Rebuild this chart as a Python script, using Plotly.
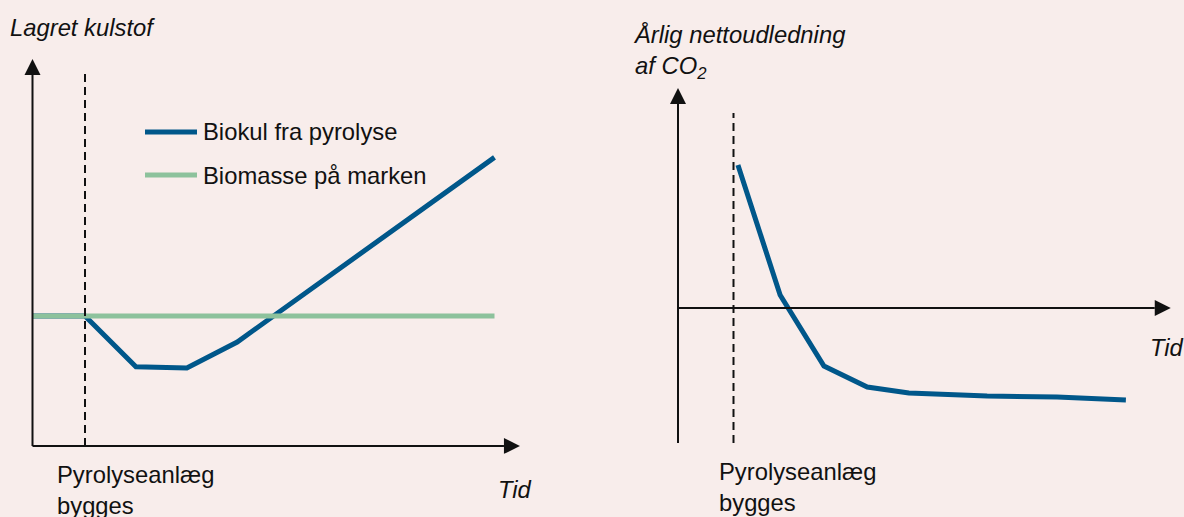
import plotly.graph_objects as go

W, H = 1184, 517
BG = "#F8EDEB"
BLUE = "#00578A"
GREEN = "#8DC29C"
INK = "#111111"
FONT = "Liberation Sans, Arial, sans-serif"
FS = 23.8

# ---------------- data ----------------
# Left panel: stored carbon over time
left_time = [0, 1, 1.97, 2.94, 3.9, 8.8]
biochar_stock = [5, 5, 3.05, 3.0, 4.0, 11.1]
biomass_time = [0, 8.8]
biomass_stock = [5, 5]
left_build_time = 1.0

# Right panel: annual net CO2 emission over time
right_time = [1.08, 1.84, 2.63, 3.41, 4.16, 5.57, 6.83, 8.07]
net_emission = [7.15, 0.65, -2.9, -3.95, -4.25, -4.4, -4.45, -4.6]
right_build_time = 1.0

series_names = ["Biokul fra pyrolyse", "Biomasse på marken"]
left_ylabel = "<i>Lagret kulstof</i>"
right_ylabel = "<i>Årlig nettoudledning<br>af CO<sub>2</sub></i>"
xlabel = "<i>Tid</i>"
event_label = "Pyrolyseanlæg<br>bygges"

# ---------------- layout helpers ----------------
def px(x):
    return x / W

def py(y):
    return 1 - y / H

# left panel pixel mapping
L_X0, L_XPU, L_XR = 32.5, 52.5, [-0.4, 10.0]
L_Y0, L_YPU, L_YR = 446.0, 26.0, [-0.3, 15.3]
# right panel pixel mapping
R_X0, R_XPU, R_XR = 678.0, 55.5, [-0.3, 9.0]
R_Y0, R_YPU, R_YR = 308.0, 20.0, [-7.0, 11.3]

def xdom(x0, xpu, xr):
    return [px(x0 + xr[0] * xpu), px(x0 + xr[1] * xpu)]

def ydom(y0, ypu, yr):
    return [py(y0 - yr[0] * ypu), py(y0 - yr[1] * ypu)]

fig = go.Figure()

fig.add_trace(go.Scatter(x=left_time, y=biochar_stock, mode="lines",
                         line=dict(color=BLUE, width=5), name=series_names[0],
                         xaxis="x", yaxis="y", showlegend=False))
fig.add_trace(go.Scatter(x=biomass_time, y=biomass_stock, mode="lines",
                         line=dict(color=GREEN, width=5), name=series_names[1],
                         xaxis="x", yaxis="y", showlegend=False))
fig.add_trace(go.Scatter(x=right_time, y=net_emission, mode="lines",
                         line=dict(color=BLUE, width=5), name=series_names[0],
                         xaxis="x2", yaxis="y2", showlegend=False))

shapes = []
ax_line = dict(color=INK, width=2)
dash_line = dict(color="#111111", width=2, dash="8px,5px")

def arrow_up(xref, yref, x, y):
    return dict(type="path", xref=xref, yref=yref, xsizemode="pixel", ysizemode="pixel",
                xanchor=x, yanchor=y, path="M-8,0 L8,0 L0,16 Z",
                fillcolor=INK, line=dict(width=0))

def arrow_right(xref, yref, x, y):
    return dict(type="path", xref=xref, yref=yref, xsizemode="pixel", ysizemode="pixel",
                xanchor=x, yanchor=y, path="M0,-8 L0,8 L16,0 Z",
                fillcolor=INK, line=dict(width=0))

# left axes
l_ytop = 14.27
l_xend = 8.98
shapes += [
    dict(type="line", xref="x", yref="y", x0=0, x1=0, y0=0, y1=l_ytop, line=ax_line),
    dict(type="line", xref="x", yref="y", x0=0, x1=l_xend, y0=0, y1=0, line=ax_line),
    arrow_up("x", "y", 0, l_ytop),
    arrow_right("x", "y", l_xend, 0),
    dict(type="line", xref="x", yref="y", x0=left_build_time, x1=left_build_time,
         y0=0, y1=14.38, line=dash_line),
]
# right axes
r_ytop = 10.2
r_ybot = -6.75
r_xend = 8.59
shapes += [
    dict(type="line", xref="x2", yref="y2", x0=0, x1=0, y0=r_ybot, y1=r_ytop, line=ax_line),
    dict(type="line", xref="x2", yref="y2", x0=0, x1=r_xend, y0=0, y1=0, line=ax_line),
    arrow_up("x2", "y2", 0, r_ytop),
    arrow_right("x2", "y2", r_xend, 0),
    dict(type="line", xref="x2", yref="y2", x0=right_build_time, x1=right_build_time,
         y0=r_ybot, y1=9.75, line=dash_line),
]
# legend swatches
for color, yy in [(BLUE, 132), (GREEN, 175)]:
    shapes.append(dict(type="line", xref="paper", yref="paper", x0=px(145), x1=px(197),
                       y0=py(yy), y1=py(yy), line=dict(color=color, width=5)))

def ann(text, x, y, xanchor="left", yanchor="middle"):
    return dict(text=text, x=px(x), y=py(y), xref="paper", yref="paper",
                xanchor=xanchor, yanchor=yanchor, showarrow=False,
                font=dict(family=FONT, size=FS, color=INK), align="left")

annotations = [
    ann(left_ylabel, 8, 28),
    ann(series_names[0], 201, 131),
    ann(series_names[1], 201, 175),
    ann(event_label, 55, 490),
    ann(xlabel, 496, 489),
    ann(right_ylabel, 631, 52),
    ann(event_label, 717, 487),
    ann(xlabel, 1148, 347),
]

fig.update_layout(
    width=W, height=H, autosize=False,
    margin=dict(l=0, r=0, t=0, b=0, pad=0),
    paper_bgcolor=BG, plot_bgcolor=BG,
    showlegend=False,
    xaxis=dict(domain=xdom(L_X0, L_XPU, L_XR), range=L_XR, visible=False, fixedrange=True),
    yaxis=dict(domain=ydom(L_Y0, L_YPU, L_YR), range=L_YR, visible=False, fixedrange=True),
    xaxis2=dict(domain=xdom(R_X0, R_XPU, R_XR), range=R_XR, visible=False, fixedrange=True,
                anchor="y2"),
    yaxis2=dict(domain=ydom(R_Y0, R_YPU, R_YR), range=R_YR, visible=False, fixedrange=True,
                anchor="x2"),
    shapes=shapes,
    annotations=annotations,
)

fig.write_html(
    "out.html",
    config={"displayModeBar": False},
    post_script="document.body.style.margin='0';document.body.style.padding='0';"
                "document.body.style.overflow='hidden';"
                "document.body.style.background='" + BG + "';",
)
